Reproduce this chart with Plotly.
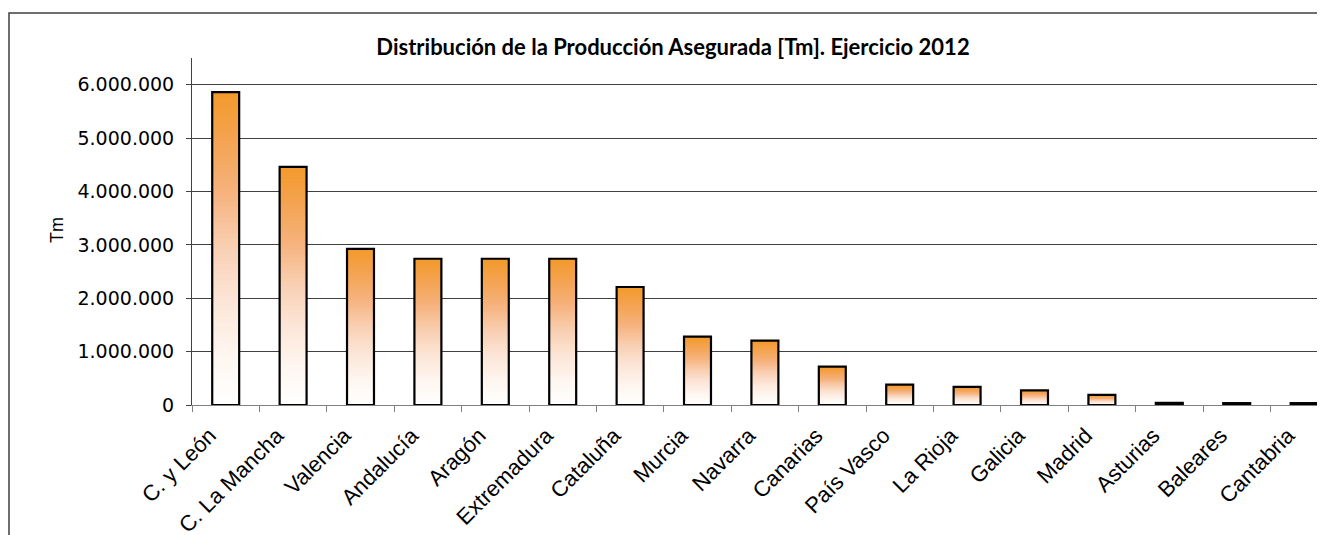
import plotly.graph_objects as go

categories = ["C. y León", "C. La Mancha", "Valencia", "Andalucía", "Aragón", "Extremadura",
              "Cataluña", "Murcia", "Navarra", "Canarias", "País Vasco", "La Rioja",
              "Galicia", "Madrid", "Asturias", "Baleares", "Cantabria"]
values = [5860000, 4460000, 2925000, 2740000, 2740000, 2740000,
          2210000, 1280000, 1205000, 720000, 380000, 340000,
          275000, 190000, 40000, 35000, 35000]
y_ticks = [0, 1000000, 2000000, 3000000, 4000000, 5000000, 6000000]

title_text = "Distribución de la Producción Asegurada [Tm]. Ejercicio 2012"

# gradient stops (fraction of bar height from bottom -> rgb)
stops = [(0.0, (255, 255, 255)), (0.16, (254, 246, 240)), (0.33, (252, 230, 216)),
         (0.5, (249, 208, 180)), (0.68, (246, 178, 125)), (0.85, (244, 163, 80)),
         (1.0, (243, 154, 43))]


def grad_color(t):
    for (t0, c0), (t1, c1) in zip(stops[:-1], stops[1:]):
        if t0 <= t <= t1:
            f = (t - t0) / (t1 - t0)
            c = [round(a + (b - a) * f) for a, b in zip(c0, c1)]
            return f"rgb({c[0]},{c[1]},{c[2]})"
    return "rgb(243,154,43)"


K = 60
BAR_W = 0.4
fig = go.Figure()
for k in range(K):
    t = (k + 0.5) / K
    extra = 0 if k == K - 1 else 1.0   # overlap into next segment to avoid seams
    fig.add_trace(go.Bar(
        x=categories, y=[v * (1 + extra) / K for v in values], base=[v * k / K for v in values],
        width=BAR_W, marker=dict(color=grad_color(t), line=dict(width=0)),
        showlegend=False, hoverinfo="skip"))

fig.add_trace(go.Bar(
    x=categories, y=values, width=BAR_W,
    marker=dict(color="rgba(0,0,0,0)", line=dict(color="black", width=2.2)),
    showlegend=False, hovertemplate="%{x}: %{y:,}<extra></extra>"))

OFF = 8  # page body margin
W, H = 1325 - OFF, 535 - OFF
L, T, B = 192 - OFF, 58 - OFF, 130
plot_w = W - L
plot_h = H - T - B
cat_px = 67.4


def px_x(x):  # page pixel -> paper x
    return (x - OFF - L) / plot_w


def px_y(y):  # page pixel -> paper y
    return (H - B - (y - OFF)) / plot_h


fig.update_layout(
    width=W, height=H, barmode="overlay",
    margin=dict(l=L, r=0, t=T, b=B, autoexpand=False),
    paper_bgcolor="white", plot_bgcolor="white",
    separators=",.",
    title=dict(text=f"<b>{title_text}</b>", x=(673 - OFF) / W, xref="container", xanchor="center",
               y=1 - 39 / H, yref="container", yanchor="middle",
               font=dict(family="Lato", size=22, color="black")),
    xaxis=dict(type="category", range=[-0.5, -0.5 + plot_w / cat_px], automargin=False,
               tickson="boundaries", ticks="outside", ticklen=6, tickcolor="#808080",
               showline=True, linecolor="#808080", linewidth=1, showgrid=False,
               tickangle=-45, ticklabelstandoff=8, ticklabelshift=-16,
               tickfont=dict(family="Liberation Sans", size=22, color="black")),
    yaxis=dict(range=[0, 6500000], tickvals=y_ticks, tickformat=",d", automargin=False,
               ticks="outside", ticklen=5, tickcolor="#404040", ticklabelstandoff=8,
               showline=True, linecolor="#404040", linewidth=1,
               showgrid=True, gridcolor="#404040", gridwidth=1, zeroline=False,
               tickfont=dict(family="DejaVu Sans", size=19, color="black")),
    annotations=[dict(text="Tm", xref="paper", yref="paper",
                      x=px_x(57), y=px_y(230), textangle=-90,
                      showarrow=False, xanchor="center", yanchor="middle",
                      font=dict(family="Liberation Sans", size=18, color="black"))],
    shapes=[dict(type="path", xref="paper", yref="paper",
                 path=f"M {px_x(9)} {px_y(560)} L {px_x(9)} {px_y(13)} L {px_x(1340)} {px_y(13)}",
                 line=dict(color="#404040", width=1.5))],
)

fig.write_html("out.html")
